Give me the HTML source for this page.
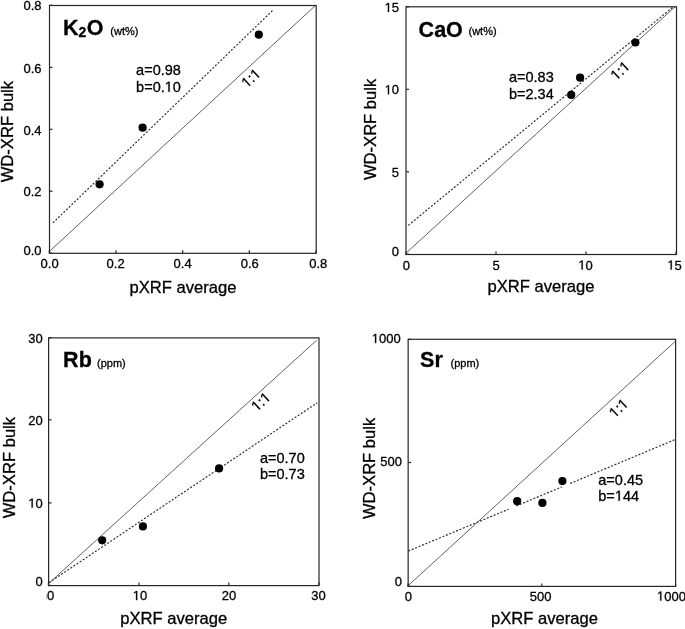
<!DOCTYPE html><html><head><meta charset="utf-8"><style>html,body{margin:0;padding:0;background:#fff;}svg{display:block;will-change:transform;}text{font-family:"Liberation Sans", sans-serif;fill:#000;stroke:#000;stroke-width:0.3px;} .h{fill-opacity:0;stroke-opacity:0;} .one{fill:#000;stroke:#000;stroke-width:0.3px;vector-effect:non-scaling-stroke;}</style></head><body>
<svg width="685" height="629" viewBox="0 0 685 629">
<rect width="685" height="629" fill="#fff"/>
<line x1="49.8" y1="251.1" x2="315.5" y2="5.4" stroke="#3a3a3a" stroke-width="0.8"/>
<line x1="52.90" y1="222.90" x2="273.80" y2="9.30" stroke="#2a2a2a" stroke-width="1.15" stroke-dasharray="2 1.7"/>
<rect x="49.5" y="5.5" width="266.70" height="247.80" fill="none" stroke="#262626" stroke-width="1.2"/>
<line x1="49.3" y1="253.3" x2="49.3" y2="250.3" stroke="#262626" stroke-width="1.2"/>
<text font-size="13" text-anchor="middle" font-weight="normal" transform="translate(49.6 268)">0.0</text>
<line x1="116" y1="253.3" x2="116" y2="250.3" stroke="#262626" stroke-width="1.2"/>
<text font-size="13" text-anchor="middle" font-weight="normal" transform="translate(115.6 268)">0.2</text>
<line x1="182.7" y1="253.3" x2="182.7" y2="250.3" stroke="#262626" stroke-width="1.2"/>
<text font-size="13" text-anchor="middle" font-weight="normal" transform="translate(182.6 268)">0.4</text>
<line x1="249.3" y1="253.3" x2="249.3" y2="250.3" stroke="#262626" stroke-width="1.2"/>
<text font-size="13" text-anchor="middle" font-weight="normal" transform="translate(249.8 268)">0.6</text>
<line x1="316" y1="253.3" x2="316" y2="250.3" stroke="#262626" stroke-width="1.2"/>
<text font-size="13" text-anchor="middle" font-weight="normal" transform="translate(318.3 268)">0.8</text>
<line x1="49.5" y1="253.2" x2="52.5" y2="253.2" stroke="#262626" stroke-width="1.2"/>
<text font-size="13" text-anchor="end" font-weight="normal" transform="translate(41.6 255.2)">0.0</text>
<line x1="49.5" y1="191.2" x2="52.5" y2="191.2" stroke="#262626" stroke-width="1.2"/>
<text font-size="13" text-anchor="end" font-weight="normal" transform="translate(41.6 196.3)">0.2</text>
<line x1="49.5" y1="129.3" x2="52.5" y2="129.3" stroke="#262626" stroke-width="1.2"/>
<text font-size="13" text-anchor="end" font-weight="normal" transform="translate(41.6 135)">0.4</text>
<line x1="49.5" y1="67.3" x2="52.5" y2="67.3" stroke="#262626" stroke-width="1.2"/>
<text font-size="13" text-anchor="end" font-weight="normal" transform="translate(41.6 73.3)">0.6</text>
<line x1="49.5" y1="5.3" x2="52.5" y2="5.3" stroke="#262626" stroke-width="1.2"/>
<text font-size="13" text-anchor="end" font-weight="normal" transform="translate(41.6 9.5)">0.8</text>
<circle cx="99.6" cy="184.3" r="4.1" fill="#000"/>
<circle cx="142.6" cy="127.7" r="4.1" fill="#000"/>
<circle cx="258.8" cy="34.7" r="4.1" fill="#000"/>
<text font-size="21.5" text-anchor="start" font-weight="bold" transform="translate(63.0 34.9)">K</text>
<text font-size="14" text-anchor="start" font-weight="bold" transform="translate(78.4 37.199999999999996)">2</text>
<text font-size="21.5" text-anchor="start" font-weight="bold" transform="translate(86.7 34.9)">O</text>
<text font-size="11" text-anchor="start" font-weight="normal" transform="translate(110.3 34.8)">(wt%)</text>
<text font-size="14.5" text-anchor="start" font-weight="normal" transform="translate(136.1 74.7)">a=0.98</text>
<text id="t0" font-size="14.5" text-anchor="start" font-weight="normal" transform="translate(136.1 91.7)">b=0.<tspan class="h">1</tspan>0</text>
<text id="t1" font-size="14.5" text-anchor="middle" font-weight="normal" transform="translate(254.3 81.7) rotate(-42.6)"><tspan class="h">1</tspan>:<tspan class="h">1</tspan></text>
<text font-size="16.6" text-anchor="middle" font-weight="normal" transform="translate(12.9 131.6) rotate(-90)">WD-XRF bulk</text>
<text font-size="16.6" text-anchor="middle" font-weight="normal" transform="translate(182.9 292.7)">pXRF average</text>
<line x1="406.2" y1="253.0" x2="675.5" y2="6.3" stroke="#3a3a3a" stroke-width="0.8"/>
<line x1="408.30" y1="225.40" x2="673.60" y2="6.50" stroke="#2a2a2a" stroke-width="1.15" stroke-dasharray="2 1.7"/>
<rect x="406" y="6.8" width="270.50" height="247.70" fill="none" stroke="#262626" stroke-width="1.2"/>
<line x1="406" y1="254.5" x2="406" y2="251.5" stroke="#262626" stroke-width="1.2"/>
<text font-size="13" text-anchor="middle" font-weight="normal" transform="translate(406.4 269.5)">0</text>
<line x1="496" y1="254.5" x2="496" y2="251.5" stroke="#262626" stroke-width="1.2"/>
<text font-size="13" text-anchor="middle" font-weight="normal" transform="translate(496 269.5)">5</text>
<line x1="586" y1="254.5" x2="586" y2="251.5" stroke="#262626" stroke-width="1.2"/>
<text id="t2" font-size="13" text-anchor="middle" font-weight="normal" transform="translate(585.5 269.5)"><tspan class="h">1</tspan>0</text>
<line x1="676" y1="254.5" x2="676" y2="251.5" stroke="#262626" stroke-width="1.2"/>
<text id="t3" font-size="13" text-anchor="middle" font-weight="normal" transform="translate(674.6 269.5)"><tspan class="h">1</tspan>5</text>
<line x1="406" y1="254.2" x2="409" y2="254.2" stroke="#262626" stroke-width="1.2"/>
<text font-size="13" text-anchor="end" font-weight="normal" transform="translate(399.1 255.8)">0</text>
<line x1="406" y1="171.8" x2="409" y2="171.8" stroke="#262626" stroke-width="1.2"/>
<text font-size="13" text-anchor="end" font-weight="normal" transform="translate(399.1 177)">5</text>
<line x1="406" y1="89.3" x2="409" y2="89.3" stroke="#262626" stroke-width="1.2"/>
<text id="t4" font-size="13" text-anchor="end" font-weight="normal" transform="translate(399.1 94.2)"><tspan class="h">1</tspan>0</text>
<line x1="406" y1="6.8" x2="409" y2="6.8" stroke="#262626" stroke-width="1.2"/>
<text id="t5" font-size="13" text-anchor="end" font-weight="normal" transform="translate(399.1 12)"><tspan class="h">1</tspan>5</text>
<circle cx="571.2" cy="94.9" r="4.1" fill="#000"/>
<circle cx="580.1" cy="77.7" r="4.1" fill="#000"/>
<circle cx="635.4" cy="42.5" r="4.1" fill="#000"/>
<text font-size="21.5" text-anchor="start" font-weight="bold" transform="translate(418.6 37.2)">CaO</text>
<text font-size="11" text-anchor="start" font-weight="normal" transform="translate(468.5 34.7)">(wt%)</text>
<text font-size="14.5" text-anchor="start" font-weight="normal" transform="translate(509 81.7)">a=0.83</text>
<text font-size="14.5" text-anchor="start" font-weight="normal" transform="translate(509 98.5)">b=2.34</text>
<text id="t6" font-size="14.5" text-anchor="middle" font-weight="normal" transform="translate(623.5 74.3) rotate(-42.6)"><tspan class="h">1</tspan>:<tspan class="h">1</tspan></text>
<text font-size="16.6" text-anchor="middle" font-weight="normal" transform="translate(375.5 129.4) rotate(-90)">WD-XRF bulk</text>
<text font-size="16.6" text-anchor="middle" font-weight="normal" transform="translate(540.9 292)">pXRF average</text>
<line x1="48.9" y1="583.25" x2="316.6" y2="340.3" stroke="#3a3a3a" stroke-width="0.8"/>
<line x1="48.90" y1="582.70" x2="317.30" y2="402.70" stroke="#2a2a2a" stroke-width="1.15" stroke-dasharray="2 1.7"/>
<rect x="48.6" y="337.9" width="270.40" height="247.70" fill="none" stroke="#262626" stroke-width="1.2"/>
<line x1="48.4" y1="585.6" x2="48.4" y2="582.6" stroke="#262626" stroke-width="1.2"/>
<line x1="139" y1="585.6" x2="139" y2="582.6" stroke="#262626" stroke-width="1.2"/>
<text id="t7" font-size="13" text-anchor="middle" font-weight="normal" transform="translate(140 600)"><tspan class="h">1</tspan>0</text>
<line x1="228.8" y1="585.6" x2="228.8" y2="582.6" stroke="#262626" stroke-width="1.2"/>
<text font-size="13" text-anchor="middle" font-weight="normal" transform="translate(229 600)">20</text>
<line x1="319" y1="585.6" x2="319" y2="582.6" stroke="#262626" stroke-width="1.2"/>
<text font-size="13" text-anchor="middle" font-weight="normal" transform="translate(318.5 600)">30</text>
<line x1="48.6" y1="585.4" x2="51.6" y2="585.4" stroke="#262626" stroke-width="1.2"/>
<text font-size="13" text-anchor="end" font-weight="normal" transform="translate(42.8 586.2)">0</text>
<line x1="48.6" y1="502.9" x2="51.6" y2="502.9" stroke="#262626" stroke-width="1.2"/>
<text id="t8" font-size="13" text-anchor="end" font-weight="normal" transform="translate(42.8 507.6)"><tspan class="h">1</tspan>0</text>
<line x1="48.6" y1="419.8" x2="51.6" y2="419.8" stroke="#262626" stroke-width="1.2"/>
<text font-size="13" text-anchor="end" font-weight="normal" transform="translate(42.8 424.8)">20</text>
<line x1="48.6" y1="337.6" x2="51.6" y2="337.6" stroke="#262626" stroke-width="1.2"/>
<text font-size="13" text-anchor="end" font-weight="normal" transform="translate(42.8 342.8)">30</text>
<circle cx="102.2" cy="540.3" r="4.1" fill="#000"/>
<circle cx="142.9" cy="526.4" r="4.1" fill="#000"/>
<circle cx="219.1" cy="468.4" r="4.1" fill="#000"/>
<text font-size="21.5" text-anchor="start" font-weight="bold" transform="translate(63.1 366.6)">Rb</text>
<text font-size="11" text-anchor="start" font-weight="normal" transform="translate(97 366.5)">(ppm)</text>
<text font-size="14.5" text-anchor="start" font-weight="normal" transform="translate(260 463)">a=0.70</text>
<text font-size="14.5" text-anchor="start" font-weight="normal" transform="translate(260 478.6)">b=0.73</text>
<text id="t9" font-size="14.5" text-anchor="middle" font-weight="normal" transform="translate(264.2 405.3) rotate(-42.6)"><tspan class="h">1</tspan>:<tspan class="h">1</tspan></text>
<text font-size="16.6" text-anchor="middle" font-weight="normal" transform="translate(15.4 467.6) rotate(-90)">WD-XRF bulk</text>
<text font-size="16.6" text-anchor="middle" font-weight="normal" transform="translate(173.7 624)">pXRF average</text>
<line x1="408.5" y1="585.3" x2="675.3" y2="341.3" stroke="#3a3a3a" stroke-width="0.8"/>
<line x1="408.30" y1="551.10" x2="508.60" y2="509.17" stroke="#2a2a2a" stroke-width="1.15" stroke-dasharray="2 1.7"/>
<line x1="516.30" y1="505.95" x2="561.80" y2="486.93" stroke="#2a2a2a" stroke-width="1.15" stroke-dasharray="2 1.7"/>
<line x1="570.20" y1="483.41" x2="675.00" y2="439.60" stroke="#2a2a2a" stroke-width="1.15" stroke-dasharray="2 1.7"/>
<rect x="408.15" y="339.3" width="267.45" height="247.10" fill="none" stroke="#262626" stroke-width="1.2"/>
<line x1="408" y1="586.4" x2="408" y2="583.4" stroke="#262626" stroke-width="1.2"/>
<text font-size="13" text-anchor="middle" font-weight="normal" transform="translate(408.3 600.5)">0</text>
<line x1="541.8" y1="586.4" x2="541.8" y2="583.4" stroke="#262626" stroke-width="1.2"/>
<text font-size="13" text-anchor="middle" font-weight="normal" transform="translate(540.6 600.5)">500</text>
<line x1="675.6" y1="586.4" x2="675.6" y2="583.4" stroke="#262626" stroke-width="1.2"/>
<line x1="408.15" y1="586.4" x2="411.15" y2="586.4" stroke="#262626" stroke-width="1.2"/>
<text font-size="13" text-anchor="end" font-weight="normal" transform="translate(401.9 586.4)">0</text>
<line x1="408.15" y1="462.5" x2="411.15" y2="462.5" stroke="#262626" stroke-width="1.2"/>
<text font-size="13" text-anchor="end" font-weight="normal" transform="translate(401.9 465.9)">500</text>
<line x1="408.15" y1="339.3" x2="411.15" y2="339.3" stroke="#262626" stroke-width="1.2"/>
<text id="t10" font-size="13" text-anchor="end" font-weight="normal" transform="translate(400.7 342.9)"><tspan class="h">1</tspan>000</text>
<circle cx="517.2" cy="501.2" r="4.1" fill="#000"/>
<circle cx="542.4" cy="502.9" r="4.1" fill="#000"/>
<circle cx="562.4" cy="481.1" r="4.1" fill="#000"/>
<text font-size="21.5" text-anchor="start" font-weight="bold" transform="translate(420.1 366.6)">Sr</text>
<text font-size="11" text-anchor="start" font-weight="normal" transform="translate(450.5 366.5)">(ppm)</text>
<text font-size="14.5" text-anchor="start" font-weight="normal" transform="translate(598.3 484.5)">a=0.45</text>
<text id="t11" font-size="14.5" text-anchor="start" font-weight="normal" transform="translate(598.3 500.8)">b=<tspan class="h">1</tspan>44</text>
<text id="t12" font-size="14.5" text-anchor="middle" font-weight="normal" transform="translate(622 411.7) rotate(-43.3)"><tspan class="h">1</tspan>:<tspan class="h">1</tspan></text>
<text font-size="16.6" text-anchor="middle" font-weight="normal" transform="translate(375 468.4) rotate(-90)">WD-XRF bulk</text>
<text font-size="16.6" text-anchor="middle" font-weight="normal" transform="translate(544.4 624.2)">pXRF average</text>
<text font-size="13" text-anchor="middle" font-weight="normal" transform="translate(50.7 600)">0</text>
<rect x="46.1" y="594.3" width="0.9" height="5" fill="#bbb"/>
<text id="t13" font-size="13" text-anchor="middle" font-weight="normal" transform="translate(671.4 600.5)"><tspan class="h">1</tspan>000</text>
<path class="one" d="M515 0L515 1237L197 1010L197 1180L530 1409L696 1409L696 0Z" transform="translate(136.1 91.7) translate(28.62 0.00) scale(0.007080 -0.007080)"/>
<path class="one" d="M515 0L515 1237L197 1010L197 1180L530 1409L696 1409L696 0Z" transform="translate(254.3 81.7) rotate(-42.6) translate(-10.09 0.00) scale(0.007080 -0.007080)"/>
<path class="one" d="M515 0L515 1237L197 1010L197 1180L530 1409L696 1409L696 0Z" transform="translate(254.3 81.7) rotate(-42.6) translate(2.02 0.00) scale(0.007080 -0.007080)"/>
<path class="one" d="M515 0L515 1237L197 1010L197 1180L530 1409L696 1409L696 0Z" transform="translate(585.5 269.5) translate(-7.23 0.00) scale(0.006348 -0.006348)"/>
<path class="one" d="M515 0L515 1237L197 1010L197 1180L530 1409L696 1409L696 0Z" transform="translate(674.6 269.5) translate(-7.23 0.00) scale(0.006348 -0.006348)"/>
<path class="one" d="M515 0L515 1237L197 1010L197 1180L530 1409L696 1409L696 0Z" transform="translate(399.1 94.2) translate(-14.47 0.00) scale(0.006348 -0.006348)"/>
<path class="one" d="M515 0L515 1237L197 1010L197 1180L530 1409L696 1409L696 0Z" transform="translate(399.1 12) translate(-14.47 0.00) scale(0.006348 -0.006348)"/>
<path class="one" d="M515 0L515 1237L197 1010L197 1180L530 1409L696 1409L696 0Z" transform="translate(623.5 74.3) rotate(-42.6) translate(-10.09 0.00) scale(0.007080 -0.007080)"/>
<path class="one" d="M515 0L515 1237L197 1010L197 1180L530 1409L696 1409L696 0Z" transform="translate(623.5 74.3) rotate(-42.6) translate(2.02 0.00) scale(0.007080 -0.007080)"/>
<path class="one" d="M515 0L515 1237L197 1010L197 1180L530 1409L696 1409L696 0Z" transform="translate(140 600) translate(-7.23 0.00) scale(0.006348 -0.006348)"/>
<path class="one" d="M515 0L515 1237L197 1010L197 1180L530 1409L696 1409L696 0Z" transform="translate(42.8 507.6) translate(-14.47 0.00) scale(0.006348 -0.006348)"/>
<path class="one" d="M515 0L515 1237L197 1010L197 1180L530 1409L696 1409L696 0Z" transform="translate(264.2 405.3) rotate(-42.6) translate(-10.09 0.00) scale(0.007080 -0.007080)"/>
<path class="one" d="M515 0L515 1237L197 1010L197 1180L530 1409L696 1409L696 0Z" transform="translate(264.2 405.3) rotate(-42.6) translate(2.02 0.00) scale(0.007080 -0.007080)"/>
<path class="one" d="M515 0L515 1237L197 1010L197 1180L530 1409L696 1409L696 0Z" transform="translate(400.7 342.9) translate(-28.94 0.00) scale(0.006348 -0.006348)"/>
<path class="one" d="M515 0L515 1237L197 1010L197 1180L530 1409L696 1409L696 0Z" transform="translate(598.3 500.8) translate(16.55 0.00) scale(0.007080 -0.007080)"/>
<path class="one" d="M515 0L515 1237L197 1010L197 1180L530 1409L696 1409L696 0Z" transform="translate(622 411.7) rotate(-43.3) translate(-10.09 0.00) scale(0.007080 -0.007080)"/>
<path class="one" d="M515 0L515 1237L197 1010L197 1180L530 1409L696 1409L696 0Z" transform="translate(622 411.7) rotate(-43.3) translate(2.02 0.00) scale(0.007080 -0.007080)"/>
<path class="one" d="M515 0L515 1237L197 1010L197 1180L530 1409L696 1409L696 0Z" transform="translate(671.4 600.5) translate(-14.47 0.00) scale(0.006348 -0.006348)"/>
</svg></body></html>
